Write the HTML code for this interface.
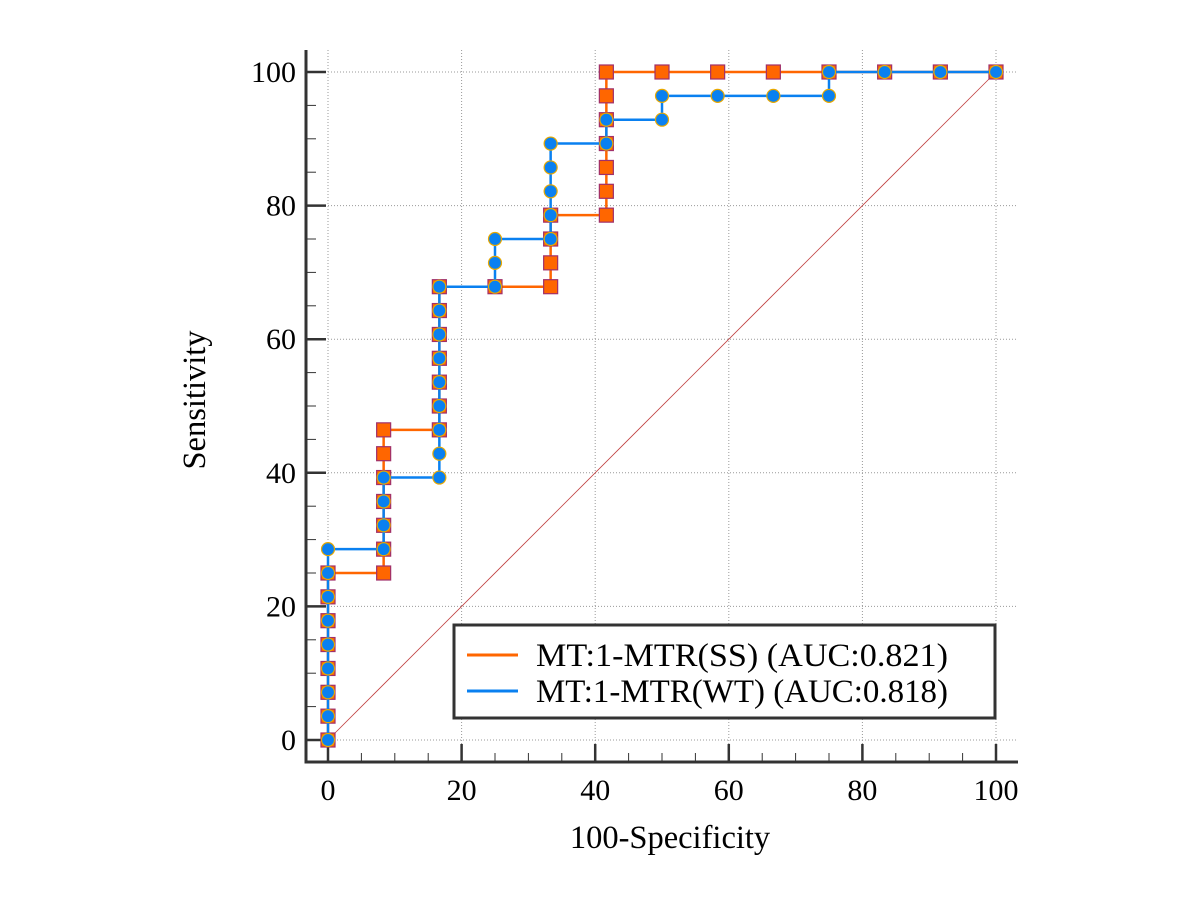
<!DOCTYPE html>
<html><head><meta charset="utf-8"><style>
body{margin:0;background:#fff;}
svg text{font-family:"Liberation Serif",serif;fill:#000;}
</style></head><body>
<svg id="c" width="1200" height="900" xmlns="http://www.w3.org/2000/svg"></svg>
<script>
const xTicks=[0,20,40,60,80,100];
const yTicks=[0,20,40,60,80,100];
const ssX=[0,0,0,0,0,0,0,0,8.33,8.33,8.33,8.33,8.33,8.33,8.33,16.67,16.67,16.67,16.67,16.67,16.67,16.67,25,33.33,33.33,33.33,33.33,41.67,41.67,41.67,41.67,41.67,41.67,41.67,50,58.33,66.67,75,83.33,91.67,100];
const ssY=[0,3.57,7.14,10.71,14.29,17.86,21.43,25,25,28.57,32.14,35.71,39.29,42.86,46.43,46.43,50,53.57,57.14,60.71,64.29,67.86,67.86,67.86,71.43,75,78.57,78.57,82.14,85.71,89.29,92.86,96.43,100,100,100,100,100,100,100,100];
const wtX=[0,0,0,0,0,0,0,0,0,8.33,8.33,8.33,8.33,16.67,16.67,16.67,16.67,16.67,16.67,16.67,16.67,16.67,25,25,25,33.33,33.33,33.33,33.33,33.33,41.67,41.67,50,50,58.33,66.67,75,75,83.33,91.67,100];
const wtY=[0,3.57,7.14,10.71,14.29,17.86,21.43,25,28.57,28.57,32.14,35.71,39.29,39.29,42.86,46.43,50,53.57,57.14,60.71,64.29,67.86,67.86,71.43,75,75,78.57,82.14,85.71,89.29,89.29,92.86,92.86,96.43,96.43,96.43,96.43,100,100,100,100];
const legendLabels=["MT:1-MTR(SS) (AUC:0.821)","MT:1-MTR(WT) (AUC:0.818)"];
const svg=document.getElementById('c');
const NS='http://www.w3.org/2000/svg';
const X=v=>328+v*6.68, Y=v=>740-v*6.68;
function mk(t,a,p){const e=document.createElementNS(NS,t);for(const k in a)e.setAttribute(k,a[k]);(p||svg).appendChild(e);return e;}
xTicks.forEach(v=>{const l=mk('line',{x1:X(v),x2:X(v),y1:50,y2:761,stroke:'#999','stroke-dasharray':'1,2','stroke-width':1});

});
yTicks.forEach(v=>{const l=mk('line',{x1:307,x2:1018,y1:Y(v),y2:Y(v),stroke:'#999','stroke-dasharray':'1,2','stroke-width':1});

});
const d=mk('line',{x1:X(0),y1:Y(0),x2:X(100),y2:Y(100),stroke:'#c04040','stroke-width':0.8});


const ax=mk('path',{d:'M306,50 V762 H1018',fill:'none',stroke:'#333','stroke-width':3});


for(let v=0;v<=100;v+=5){const maj=v%20===0;
 const t=mk('line',{x1:X(v),x2:X(v),y1:762,y2:maj?744:753,stroke:'#333','stroke-width':maj?2.5:1});
 
 
 const u=mk('line',{x1:306,x2:maj?326:316,y1:Y(v),y2:Y(v),stroke:'#333','stroke-width':maj?2.5:1});
 
 }
xTicks.forEach(v=>{const t=mk('text',{x:X(v),y:800,'text-anchor':'middle','font-size':30});t.textContent=v;

});
yTicks.forEach(v=>{const t=mk('text',{x:296,y:Y(v)+10,'text-anchor':'end','font-size':30});t.textContent=v;

});
const xt=mk('text',{x:670,y:848,'text-anchor':'middle','font-size':32.5});xt.textContent='100-Specificity';


const yt=mk('text',{x:0,y:0,'text-anchor':'middle','font-size':32.5,transform:'translate(205,400) rotate(-90)'});yt.textContent='Sensitivity';


function stepPath(xs,ys){let s='M'+X(xs[0])+','+Y(ys[0]);for(let i=1;i<xs.length;i++)s+=' L'+X(xs[i])+','+Y(ys[i]);return s;}
const g1=mk('g',{});
mk('path',{d:stepPath(ssX,ssY),fill:'none',stroke:'#ff6600','stroke-width':2.5},g1);
ssX.forEach((x,i)=>{const r=mk('rect',{x:X(x)-7,y:Y(ssY[i])-7,width:14,height:14,fill:'#ff6600',stroke:'#a0306a','stroke-width':1.2},g1);

});
const g2=mk('g',{});
mk('path',{d:stepPath(wtX,wtY),fill:'none',stroke:'#0a80f0','stroke-width':2.5},g2);
wtX.forEach((x,i)=>{const c=mk('circle',{cx:X(x),cy:Y(wtY[i]),r:6.5,fill:'#0a80f0',stroke:'#e8a800','stroke-width':1.2},g2);

});
const lg=mk('g',{});
mk('rect',{x:454,y:625,width:541,height:93,fill:'#fff',stroke:'#333','stroke-width':3},lg);
const cols=['#ff6600','#0a80f0'];
legendLabels.forEach((s,i)=>{const yy=655+i*36;
 const e=mk('g',{},lg);
 mk('line',{x1:467,x2:518,y1:yy,y2:yy,stroke:cols[i],'stroke-width':3},e);
 const t=mk('text',{x:536,y:yy+11,'font-size':33,textLength:412,lengthAdjust:'spacingAndGlyphs'},e);t.textContent=s;});
</script>
</body></html>
